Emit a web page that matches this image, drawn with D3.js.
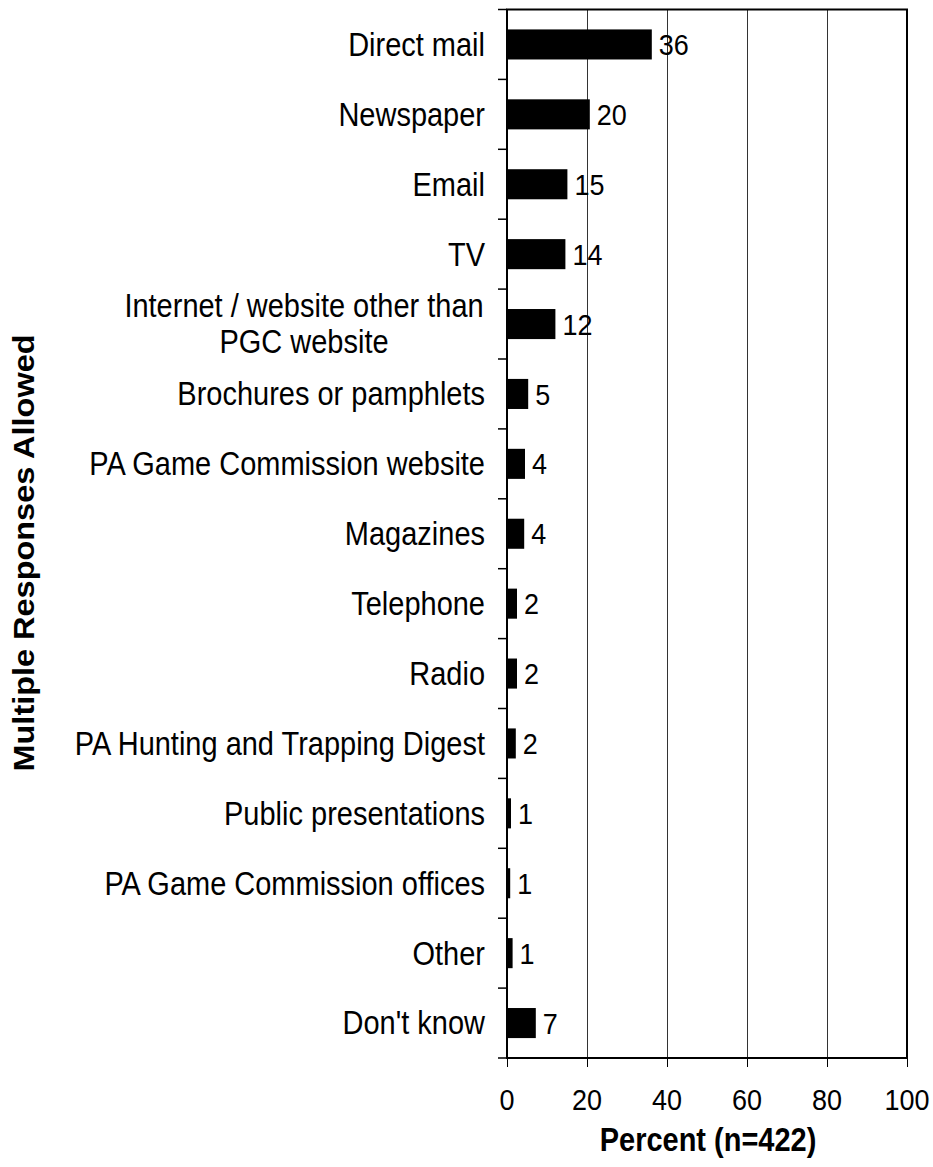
<!DOCTYPE html>
<html>
<head>
<meta charset="utf-8">
<script src="https://cdn.jsdelivr.net/npm/d3@7"></script>
<style>
  body { margin: 0; background: #fff; }
  text { font-family: "Liberation Sans", Arial, sans-serif; fill: #000; }
</style>
</head>
<body>
<div id="chart"></div>
<script>
// categories (top to bottom), the percent values and the printed labels
const categories = [
  'Direct mail', 'Newspaper', 'Email', 'TV',
  'Internet / website other than|PGC website',
  'Brochures or pamphlets', 'PA Game Commission website', 'Magazines',
  'Telephone', 'Radio', 'PA Hunting and Trapping Digest',
  'Public presentations', 'PA Game Commission offices', 'Other', "Don't know"
];
const values = [36.2, 20.7, 15.1, 14.6, 12.1, 5.3, 4.5, 4.3, 2.5, 2.5, 2.2, 1.0, 0.8, 1.4, 7.2];
const valueLabels = ['36', '20', '15', '14', '12', '5', '4', '4', '2', '2', '2', '1', '1', '1', '7'];
const xTicks = [0, 20, 40, 60, 80, 100];

const width = 933, height = 1167;
const plot = { left: 507, right: 907, top: 9.5, bottom: 1058 };
// the source picture is stretched a little vertically
const stretch = 'scale(1,1.12)';

const svg = d3.select('#chart').append('svg')
  .attr('width', width)
  .attr('height', height);

const x = d3.scaleLinear()
  .domain([0, 100])
  .range([plot.left, plot.right]);

const y = d3.scaleBand()
  .domain(categories)
  .range([plot.top, plot.bottom])
  .paddingInner(0.57)
  .paddingOuter(0.285);

const step = y.step();

// vertical gridlines
svg.append('g')
  .selectAll('line')
  .data(xTicks.filter(d => d > 0 && d < 100))
  .join('line')
  .attr('x1', d => Math.round(x(d)) + 0.5)
  .attr('x2', d => Math.round(x(d)) + 0.5)
  .attr('y1', plot.top)
  .attr('y2', plot.bottom + 9)
  .attr('stroke', '#333')
  .attr('stroke-width', 1);

// bars
svg.append('g')
  .selectAll('rect')
  .data(values)
  .join('rect')
  .attr('x', x(0))
  .attr('y', (d, i) => y(categories[i]))
  .attr('width', d => x(d) - x(0))
  .attr('height', y.bandwidth())
  .attr('fill', '#000');

// value labels
svg.append('g')
  .selectAll('text')
  .data(values)
  .join('text')
  .attr('transform', (d, i) => `translate(${x(d) + 7},${y(categories[i]) + y.bandwidth() / 2}) ${stretch}`)
  .attr('dy', '0.35em')
  .attr('font-size', 27)
  .text((d, i) => valueLabels[i]);

// frame
svg.append('rect')
  .attr('x', plot.left)
  .attr('y', plot.top)
  .attr('width', plot.right - plot.left)
  .attr('height', plot.bottom - plot.top)
  .attr('fill', 'none')
  .attr('stroke', '#000')
  .attr('stroke-width', 2);

// left ticks at category boundaries
const bounds = d3.range(categories.length + 1).map(i => plot.top + i * step);
svg.append('g')
  .selectAll('line')
  .data(bounds)
  .join('line')
  .attr('x1', plot.left - 9)
  .attr('x2', plot.left)
  .attr('y1', d => d)
  .attr('y2', d => d)
  .attr('stroke', '#000')
  .attr('stroke-width', 1.5);

// category labels (| splits lines, centred block)
const catG = svg.append('g');
categories.forEach(c => {
  const lines = c.split('|');
  const cy = y(c) + y.bandwidth() / 2;
  const lineH = 36;
  const tx = lines.length > 1 ? 304 : 485;
  lines.forEach((ln, j) => {
    catG.append('text')
      .attr('transform', `translate(${tx},${cy + (j - (lines.length - 1) / 2) * lineH}) ${stretch}`)
      .attr('text-anchor', lines.length > 1 ? 'middle' : 'end')
      .attr('dy', '0.35em')
      .attr('font-size', 29)
      .text(ln);
  });
});

// bottom axis ticks
const xAxis = svg.append('g')
  .attr('transform', `translate(0,${plot.bottom})`)
  .call(d3.axisBottom(x).tickValues(xTicks).tickSize(9).tickFormat(''));
xAxis.select('.domain').remove();
xAxis.selectAll('line').attr('stroke', '#000').attr('stroke-width', 1);

svg.append('g')
  .selectAll('text')
  .data(xTicks)
  .join('text')
  .attr('transform', d => `translate(${x(d)},1110) ${stretch}`)
  .attr('text-anchor', 'middle')
  .attr('font-size', 27)
  .text(d => d);

// axis titles
svg.append('text')
  .attr('transform', `translate(708,1151) ${stretch}`)
  .attr('text-anchor', 'middle')
  .attr('font-size', 29)
  .attr('font-weight', 'bold')
  .text('Percent (n=422)');

svg.append('text')
  .attr('transform', 'translate(34,553) scale(1,1.12) rotate(-90)')
  .attr('text-anchor', 'middle')
  .attr('font-size', 29)
  .attr('font-weight', 'bold')
  .text('Multiple Responses Allowed');
</script>
</body>
</html>
